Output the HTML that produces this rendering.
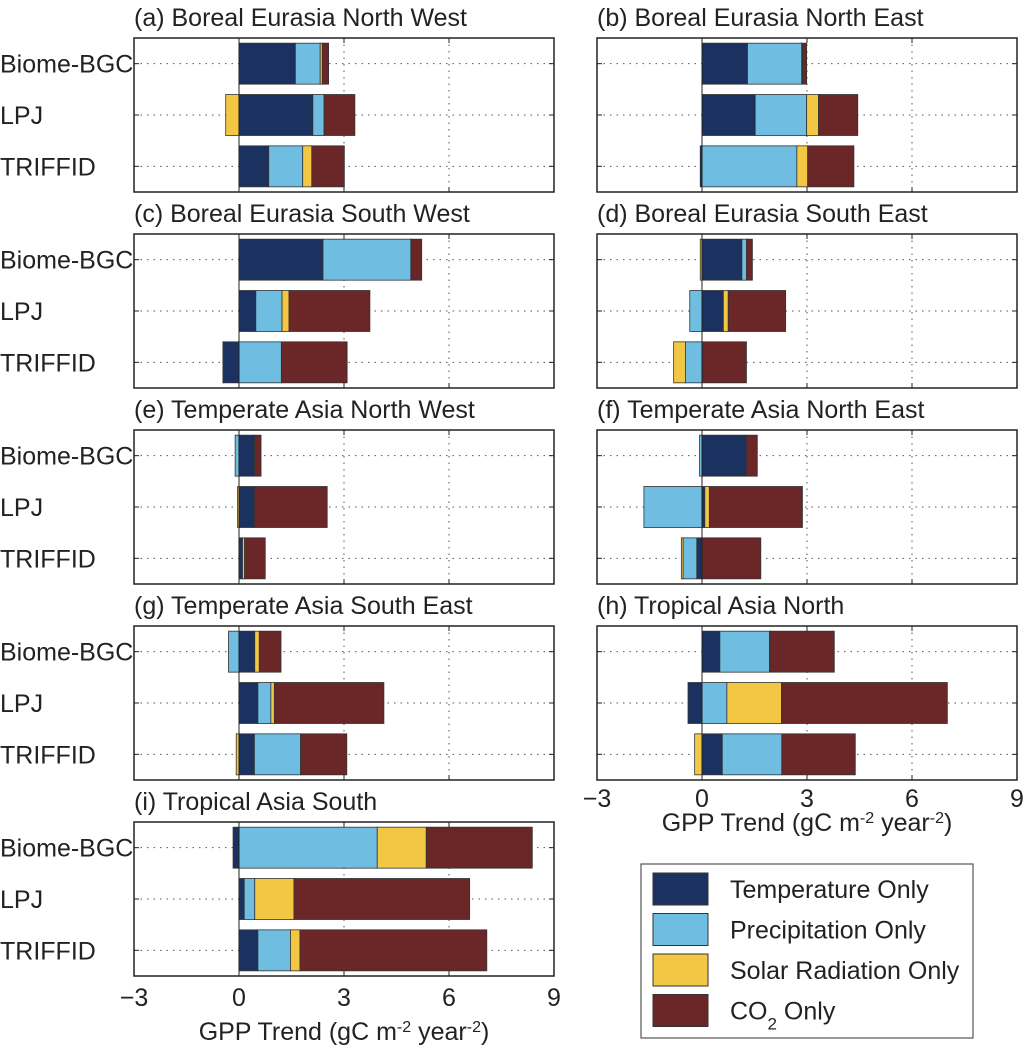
<!DOCTYPE html>
<html><head><meta charset="utf-8"><style>
body{margin:0;background:#fff;}
svg text{font-family:"Liberation Sans",Arial,sans-serif;fill:#222;}
</style></head><body>
<svg id="fig" width="1024" height="1047" viewBox="0 0 1024 1047" xmlns="http://www.w3.org/2000/svg"></svg>
<script>
const models = ["Biome-BGC","LPJ","TRIFFID"];
const factors = ["Temperature Only","Precipitation Only","Solar Radiation Only","CO2 Only"];
const colors = ["#1b3160","#6fbde0","#f2c744","#6b2628"];
const xTicks = [-3,0,3,6,9];
const xTickLabels = ["\u22123","0","3","6","9"];
const panelTitles = ["(a) Boreal Eurasia North West","(b) Boreal Eurasia North East","(c) Boreal Eurasia South West","(d) Boreal Eurasia South East","(e) Temperate Asia North West","(f) Temperate Asia North East","(g) Temperate Asia South East","(h) Tropical Asia North","(i) Tropical Asia South"];
// values per panel: [model][factor] = [temp, precip, solar, co2]
const panelA = [[1.61,0.71,0.06,0.18],[2.11,0.32,-0.38,0.88],[0.85,0.97,0.26,0.93]];
const panelB = [[1.30,1.55,0.02,0.12],[1.52,1.47,0.34,1.12],[-0.05,2.71,0.31,1.32]];
const panelC = [[2.40,2.51,0.02,0.29],[0.48,0.75,0.20,2.31],[-0.44,1.21,-0.02,1.88]];
const panelD = [[1.14,0.13,-0.05,0.17],[0.61,-0.35,0.14,1.64],[0.01,-0.47,-0.34,1.26]];
const panelE = [[0.44,-0.11,0.01,0.18],[0.44,0.00,-0.04,2.08],[0.09,0.01,0.06,0.59]];
const panelF = [[1.26,-0.07,0.01,0.31],[0.08,-1.66,0.13,2.66],[-0.15,-0.39,-0.05,1.68]];
const panelG = [[0.45,-0.30,0.13,0.62],[0.54,0.37,0.10,3.13],[0.44,1.32,-0.08,1.32]];
const panelH = [[0.51,1.42,0.01,1.84],[-0.40,0.71,1.56,4.74],[0.58,1.70,-0.21,2.10]];
const panelI = [[-0.17,3.95,1.40,3.03],[0.15,0.30,1.12,5.02],[0.54,0.93,0.27,5.34]];
const panelData = [panelA,panelB,panelC,panelD,panelE,panelF,panelG,panelH,panelI];

const NS="http://www.w3.org/2000/svg";
const svg=document.getElementById('fig');
function mk(tag,attrs,parent){const e=document.createElementNS(NS,tag);for(const k in attrs)e.setAttribute(k,attrs[k]);(parent||svg).appendChild(e);return e;}

const PW=420, PH=154, XMIN=-3, XMAX=9;
function panelPos(i){const col=i%2,row=Math.floor(i/2);return {x: col===0?134:597, y:38+row*196};}

panelData.forEach((data,p)=>{
  const pos=panelPos(p);
  const g=mk('g',{});
  
  
  const xs=v=>pos.x+(v-XMIN)/(XMAX-XMIN)*PW;
  const ys=k=>pos.y+(k+0.5)/3*PH;
  const t=mk('text',{x:pos.x,y:pos.y-12,'font-size':25},g);
  t.textContent=panelTitles[p];
  
  
  mk('rect',{x:pos.x,y:pos.y,width:PW,height:PH,fill:'#fff',stroke:'none'},g);
  [3,6].forEach(v=>{const l=mk('line',{x1:xs(v),x2:xs(v),y1:pos.y,y2:pos.y+PH,stroke:'#555','stroke-width':1,'stroke-dasharray':'1.5,5'},g);
    });
  models.forEach((m,k)=>{const l=mk('line',{x1:pos.x,x2:pos.x+PW,y1:ys(k),y2:ys(k),stroke:'#555','stroke-width':1,'stroke-dasharray':'1.5,5'},g);
    });
  data.forEach((vals,k)=>{
    let pos0=0,neg0=0;const bh=41;
    vals.forEach((v,f)=>{
      let a,b;
      if(v>=0){a=pos0;b=pos0+v;pos0=b;}else{a=neg0+v;b=neg0;neg0=a;}
      const r=mk('rect',{x:xs(a),y:ys(k)-bh/2,width:Math.max(0,xs(b)-xs(a)),height:bh,fill:colors[f],stroke:'#333','stroke-width':0.8},g);
      
      
    });
  });
  mk('line',{x1:xs(0),x2:xs(0),y1:pos.y,y2:pos.y+PH,stroke:'#222','stroke-width':1},g);
  xTicks.forEach(v=>{mk('line',{x1:xs(v),x2:xs(v),y1:pos.y+PH,y2:pos.y+PH-5,stroke:'#222'},g);mk('line',{x1:xs(v),x2:xs(v),y1:pos.y,y2:pos.y+5,stroke:'#222'},g);});
  models.forEach((m,k)=>{mk('line',{x1:pos.x,x2:pos.x+5,y1:ys(k),y2:ys(k),stroke:'#222'},g);mk('line',{x1:pos.x+PW,x2:pos.x+PW-5,y1:ys(k),y2:ys(k),stroke:'#222'},g);});
  mk('rect',{x:pos.x,y:pos.y,width:PW,height:PH,fill:'none',stroke:'#222','stroke-width':1.5},g);
  if(p%2===0){
    models.forEach((m,k)=>{const tx=mk('text',{x:0,y:ys(k)+9,'font-size':25,'text-anchor':'start'},g);tx.textContent=m;
      });
  }
  if(p===7||p===8){
    const ty=pos.y+PH+(p===8?30:27);
    xTicks.forEach((v,i)=>{const tx=mk('text',{x:xs(v),y:ty,'font-size':25,'text-anchor':'middle'},g);tx.textContent=xTickLabels[i];
      });
    const lx=mk('text',{x:xs(3),y:p===8?pos.y+PH+64:pos.y+PH+51,'font-size':25,'text-anchor':'middle'},g);
    lx.innerHTML='GPP Trend (gC m<tspan baseline-shift="super" font-size="16">-2</tspan> year<tspan baseline-shift="super" font-size="16">-2</tspan>)';
    
  }
});
const lg=mk('g',{});


mk('rect',{x:641,y:864,width:332,height:174,fill:'#fff',stroke:'#555','stroke-width':1.2},lg);
factors.forEach((f,i)=>{
  const y=873+i*40.5;
  const s=mk('rect',{x:653,y:y,width:55,height:32,fill:colors[i],stroke:'#333','stroke-width':1},lg);
  
  const t=mk('text',{x:730,y:y+25,'font-size':25},lg);
  if(i===3){t.innerHTML='CO<tspan baseline-shift="sub" font-size="17">2</tspan> Only';}else t.textContent=f;
  
});
</script>
</body></html>
